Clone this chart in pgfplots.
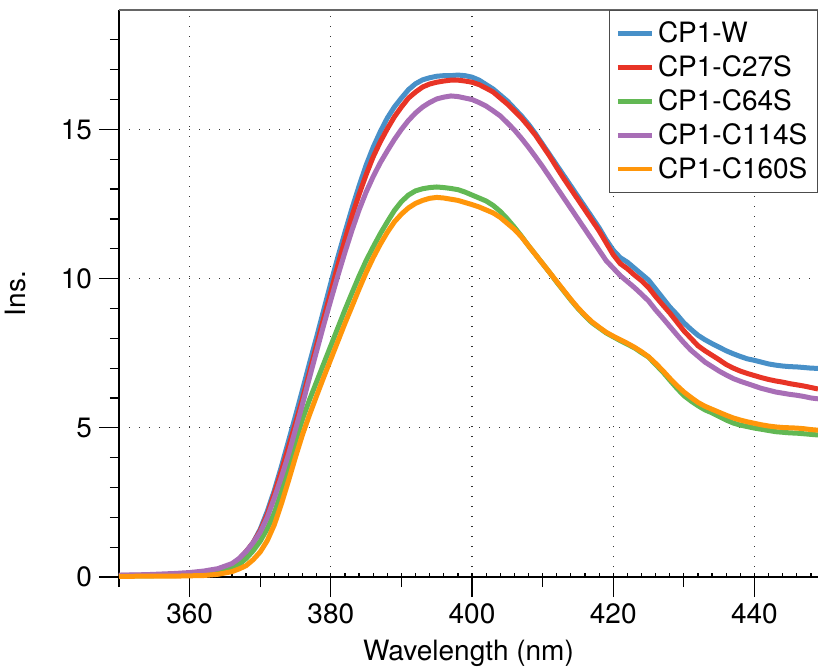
\documentclass[border=0pt]{standalone}
\usepackage{fontspec}
\setmainfont{TeX Gyre Heros}
\usepackage{pgfplots}
\pgfplotsset{compat=1.18}
\usepackage{pgfplotstable}

\definecolor{cW}{RGB}{72,144,200}
\definecolor{cR}{RGB}{232,52,38}
\definecolor{cG}{RGB}{98,184,84}
\definecolor{cP}{RGB}{168,110,182}
\definecolor{cO}{RGB}{255,150,10}

% columns: wavelength, W, C27S, C64S, C114S, C160S
\pgfplotstableread{
x    W     A     B     C     D
350  0.05  0.05  0.03  0.06  0.02
354  0.06  0.06  0.04  0.08  0.03
358  0.08  0.08  0.05  0.12  0.03
360  0.09  0.09  0.06  0.15  0.04
362  0.12  0.12  0.08  0.20  0.05
364  0.20  0.20  0.14  0.28  0.09
366  0.40  0.40  0.28  0.45  0.18
367  0.60  0.60  0.42  0.62  0.27
368  0.85  0.85  0.62  0.85  0.38
369  1.15  1.15  0.88  1.15  0.58
370  1.60  1.55  1.20  1.50  0.84
371  2.20  2.10  1.62  2.00  1.22
372  2.90  2.80  2.15  2.65  1.75
373  3.70  3.55  2.85  3.35  2.45
374  4.55  4.35  3.70  4.10  3.22
375  5.40  5.15  4.55  4.95  4.02
376  6.28  5.98  5.30  5.80  4.78
377  7.18  6.88  5.95  6.70  5.45
378  8.05  7.78  6.55  7.58  6.08
379  8.95  8.68  7.15  8.45  6.70
380  9.85  9.55  7.75  9.28  7.30
381  10.72 10.45 8.35  10.10 7.90
382  11.55 11.30 8.95  10.88 8.50
383  12.35 12.10 9.52  11.62 9.07
384  13.10 12.82 10.08 12.30 9.65
385  13.80 13.48 10.60 12.90 10.20
386  14.40 14.08 11.06 13.42 10.70
387  14.92 14.58 11.50 13.88 11.15
388  15.38 15.02 11.90 14.28 11.55
389  15.75 15.42 12.28 14.66 11.90
390  16.05 15.75 12.58 15.00 12.16
391  16.33 16.05 12.80 15.30 12.37
392  16.53 16.25 12.94 15.55 12.52
393  16.66 16.42 13.01 15.75 12.62
394  16.73 16.52 13.05 15.90 12.69
395  16.78 16.58 13.07 16.02 12.72
396  16.80 16.62 13.05 16.08 12.70
397  16.80 16.65 13.02 16.12 12.66
398  16.82 16.65 12.98 16.10 12.62
399  16.80 16.62 12.90 16.05 12.55
400  16.75 16.58 12.80 16.00 12.48
401  16.65 16.50 12.70 15.90 12.40
402  16.50 16.38 12.60 15.78 12.30
403  16.35 16.25 12.45 15.62 12.20
404  16.15 16.05 12.25 15.45 12.05
405  15.95 15.85 12.00 15.22 11.85
406  15.70 15.62 11.72 14.98 11.65
407  15.45 15.38 11.42 14.70 11.40
408  15.17 15.10 11.10 14.40 11.10
409  14.85 14.80 10.80 14.08 10.80
410  14.50 14.45 10.50 13.75 10.50
411  14.15 14.10 10.20 13.40 10.20
412  13.80 13.72 9.88  13.05 9.90
413  13.45 13.35 9.58  12.70 9.60
414  13.10 13.00 9.28  12.35 9.30
415  12.75 12.65 9.00  12.00 9.02
416  12.40 12.30 8.75  11.65 8.77
417  12.05 11.95 8.52  11.30 8.55
418  11.70 11.60 8.35  10.95 8.37
419  11.30 11.20 8.18  10.60 8.20
420  10.95 10.80 8.05  10.35 8.07
421  10.70 10.50 7.92  10.10 7.95
422  10.55 10.33 7.80  9.90  7.83
423  10.35 10.12 7.68  9.70  7.70
424  10.15 9.93  7.52  9.48  7.55
425  9.95  9.70  7.37  9.25  7.38
426  9.65  9.40  7.12  8.95  7.16
427  9.35  9.12  6.88  8.68  6.92
428  9.05  8.85  6.60  8.40  6.66
429  8.80  8.55  6.33  8.12  6.42
430  8.52  8.25  6.08  7.85  6.20
431  8.30  8.00  5.90  7.60  6.02
432  8.10  7.75  5.74  7.40  5.85
433  7.95  7.58  5.60  7.20  5.72
434  7.82  7.43  5.50  7.05  5.62
435  7.70  7.28  5.38  6.90  5.52
436  7.58  7.12  5.26  6.77  5.42
437  7.48  7.00  5.16  6.65  5.33
438  7.39  6.90  5.09  6.56  5.26
439  7.31  6.82  5.04  6.48  5.20
440  7.26  6.75  4.99  6.40  5.15
441  7.20  6.68  4.95  6.32  5.10
442  7.14  6.62  4.91  6.26  5.06
443  7.10  6.57  4.87  6.20  5.03
444  7.07  6.53  4.85  6.16  5.01
445  7.05  6.48  4.83  6.12  5.00
446  7.04  6.44  4.82  6.09  4.99
447  7.02  6.40  4.80  6.05  4.97
448  7.00  6.35  4.78  6.00  4.94
449  6.99  6.30  4.76  5.97  4.92
}\spectra

\begin{document}
\begin{tikzpicture}
\useasboundingbox (-59.5pt,-44.5pt) rectangle (349.5pt,288.5pt);
\begin{axis}[
    at={(0,0)}, anchor=south west,
    scale only axis,
    width=349.5pt, height=283.5pt,
    xmin=350, xmax=449, ymin=0, ymax=19,
    axis x line*=bottom, axis y line*=left,
    axis line style={black, line width=0.6pt},
    clip=false,
    xtick={360,380,...,440},
    ytick={0,5,10,15},
    minor xtick={350,352,...,448},
    tick align=outside,
    major tick length=10pt,
    minor tick length=2pt,
    minor x tick style={yshift=2pt},
    tick style={black, line width=0.6pt},
    extra x ticks={350,370,390,410,430},
    extra x tick labels={},
    extra x tick style={major tick length=5pt, grid=none},
    extra y ticks={1,2,3,4,6,7,8,9,11,12,13,14,16,17,18},
    extra y tick labels={},
    extra y tick style={major tick length=4.5pt, grid=none},
    grid=major,
    major grid style={black!80, line width=0.6pt, dash pattern=on 0.6pt off 4.4pt},
    /pgf/number format/assume math mode=true,
    ticklabel style={font=\fontsize{14}{16}\selectfont},
    label style={font=\fontsize{14}{16}\selectfont},
    xlabel={Wavelength (nm)},
    ylabel={Ins.},
    xlabel style={yshift=14pt},
    ylabel style={yshift=-4pt},
    legend style={at={(1,1)}, anchor=north east, draw=black!70, line width=0.6pt,
        font=\fontsize{14}{16}\selectfont, row sep=1pt,
        inner xsep=3pt, inner ysep=3.5pt},
    legend cell align=left,
    legend image code/.code={\draw[#1, line width=2.2pt] (0pt,0pt) -- (17pt,0pt);},
    every axis plot/.append style={line width=2.5pt, line join=round},
]
\addplot[cW, no markers] table[x=x, y=W] {\spectra};
\addlegendentry{CP1-W}
\addplot[cR, no markers] table[x=x, y=A] {\spectra};
\addlegendentry{CP1-C27S}
\addplot[cG, no markers] table[x=x, y=B] {\spectra};
\addlegendentry{CP1-C64S}
\addplot[cP, no markers] table[x=x, y=C] {\spectra};
\addlegendentry{CP1-C114S}
\addplot[cO, no markers] table[x=x, y=D] {\spectra};
\addlegendentry{CP1-C160S}
\draw[black!60, line width=0.8pt] (rel axis cs:0,1) -- (rel axis cs:1,1);
\end{axis}
\end{tikzpicture}
\end{document}
